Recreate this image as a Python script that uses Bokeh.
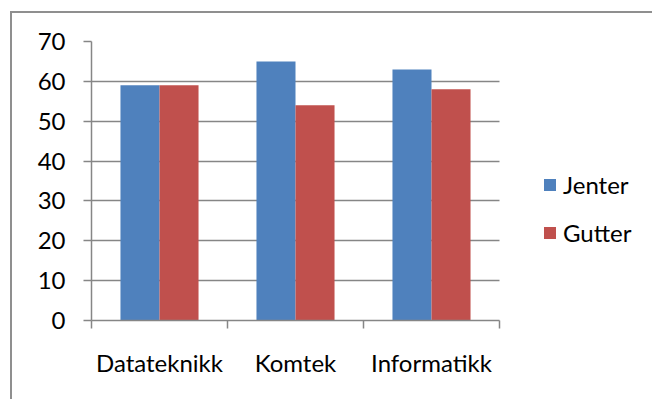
from bokeh.plotting import figure
from bokeh.models import (ColumnDataSource, FixedTicker, Legend, LegendItem, Range1d)
from bokeh.transform import dodge
from bokeh.embed import file_html
from bokeh.resources import INLINE

# Study programmes and counts per group
programs = ["Datateknikk", "Komtek", "Informatikk"]
jenter = [59, 65, 63]
gutter = [59, 54, 58]
series_names = ["Jenter", "Gutter"]
y_ticks = [0, 10, 20, 30, 40, 50, 60, 70]

FONT = "Lato"
GRAY = "#868686"
BLUE = "#4F81BD"
RED = "#C0504D"

n = len(programs)
centers = [i + 0.5 for i in range(n)]
source = ColumnDataSource(dict(x=centers, jenter=jenter, gutter=gutter))

W, H = 642, 388
LEFT, RIGHT, TOP, BOTTOM = 79, 6, 28, 81
# the frame also holds the legend to the right of the bars;
# each category is 136 px wide
x_end = (W - LEFT - RIGHT) / 136

p = figure(width=W, height=H, output_backend="svg", toolbar_location=None,
           x_range=Range1d(0, x_end), y_range=Range1d(0, max(y_ticks)),
           min_border_left=LEFT, min_border_right=RIGHT,
           min_border_top=TOP, min_border_bottom=BOTTOM)
p.outline_line_color = None
p.background_fill_color = "white"
p.border_fill_color = "white"
# chart area frame: left and top edges drawn as an offset shadow
p.styles = {"margin-left": "12px", "margin-top": "13px",
            "box-shadow": "-2px -2px 0 0 #8f8f8f"}

bar_w = 0.287
r_j = p.vbar(x=dodge("x", -bar_w / 2, range=p.x_range), top="jenter", width=bar_w,
             source=source, fill_color=BLUE, line_color=None)
r_g = p.vbar(x=dodge("x", bar_w / 2, range=p.x_range), top="gutter", width=bar_w,
             source=source, fill_color=RED, line_color=None)

# y axis and horizontal gridlines
p.yaxis.ticker = FixedTicker(ticks=y_ticks, minor_ticks=[])
p.yaxis.axis_line_color = GRAY
p.yaxis.major_tick_line_color = GRAY
p.yaxis.major_tick_out = 8
p.yaxis.major_tick_in = 0
p.yaxis.major_label_standoff = 18
p.ygrid.ticker = FixedTicker(ticks=y_ticks)
p.ygrid.cross_bounds = (0, n)
p.ygrid.grid_line_color = GRAY
p.ygrid.grid_line_width = 1.5
p.xgrid.visible = False

# x axis: labels at the centres, tick marks on the category boundaries
p.xaxis.bounds = (0, n)
p.xaxis.ticker = FixedTicker(ticks=centers, minor_ticks=list(range(n + 1)))
p.xaxis.major_label_overrides = {c: name for c, name in zip(centers, programs)}
p.xaxis.axis_line_color = GRAY
p.xaxis.major_tick_line_color = None
p.xaxis.minor_tick_line_color = GRAY
p.xaxis.minor_tick_out = 8
p.xaxis.minor_tick_in = 0
p.xaxis.major_label_standoff = 19

for ax in (p.xaxis, p.yaxis):
    ax.major_label_text_font = FONT
    ax.major_label_text_font_size = "24px"
    ax.major_label_text_color = "black"
    ax.axis_line_width = 1.5
    ax.major_tick_line_width = 1.5
    ax.minor_tick_line_width = 1.5

legend = Legend(items=[LegendItem(label=series_names[0], renderers=[r_j]),
                       LegendItem(label=series_names[1], renderers=[r_g])],
                location=(451, 72.5), orientation="vertical",
                border_line_color=None, background_fill_alpha=0,
                padding=0, margin=0, spacing=18,
                glyph_width=15, glyph_height=15, label_height=30,
                label_standoff=6, label_text_font=FONT,
                label_text_font_size="24px", label_text_color="black")
p.add_layout(legend)

open("out.html", "w").write(file_html(p, INLINE))
